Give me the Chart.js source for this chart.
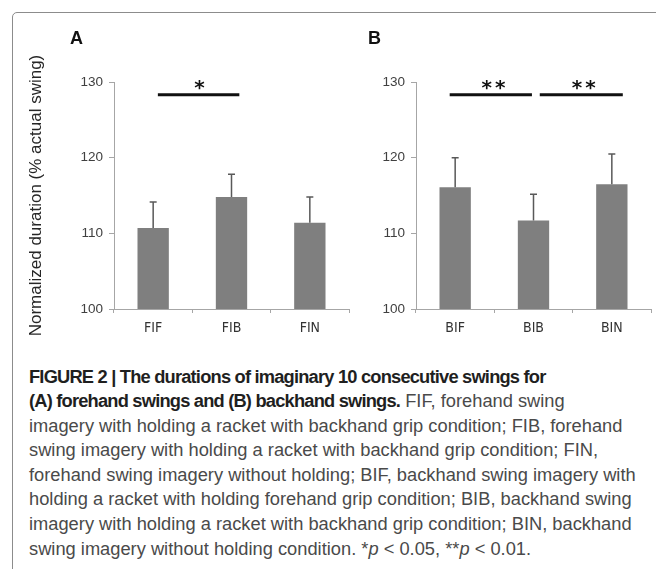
<!DOCTYPE html>
<html>
<head>
<meta charset="utf-8">
<script src="https://cdn.jsdelivr.net/npm/chart.js@4.4.1/dist/chart.umd.min.js"></script>
<style>
  html, body { margin: 0; padding: 0; background: #fff; }
  body { width: 656px; height: 569px; position: relative; overflow: hidden;
         font-family: "Liberation Sans", Arial, sans-serif; }
  #frame { position: absolute; left: 12px; top: 12px; width: 700px; height: 700px;
           border: 1.5px solid #8c8c8c; border-radius: 5px; }
  #chartA { position: absolute; left: 0; top: 0; }
  #chartB { position: absolute; left: 360px; top: 0; }
  #caption { position: absolute; left: 29px; top: 364.5px; font-size: 18.3px; line-height: 24.6px;
             color: #4a4a4a; white-space: nowrap; }
  #caption b { color: #1f1f1f; letter-spacing: -0.8px; }
</style>
</head>
<body>
<div id="frame"></div>
<canvas id="chartA" width="360" height="345"></canvas>
<canvas id="chartB" width="296" height="345"></canvas>
<div id="caption">
  <div><b>FIGURE 2 | The durations of imaginary 10 consecutive swings for</b></div>
  <div><b>(A) forehand swings and (B) backhand swings.</b> FIF, forehand swing</div>
  <div>imagery with holding a racket with backhand grip condition; FIB, forehand</div>
  <div>swing imagery with holding a racket with backhand grip condition; FIN,</div>
  <div>forehand swing imagery without holding; BIF, backhand swing imagery with</div>
  <div>holding a racket with holding forehand grip condition; BIB, backhand swing</div>
  <div>imagery with holding a racket with backhand grip condition; BIN, backhand</div>
  <div>swing imagery without holding condition. *<i>p</i> &lt; 0.05, **<i>p</i> &lt; 0.01.</div>
</div>
<script>
// --- data ---
const categoriesA = ['FIF', 'FIB', 'FIN'];
const meansA = [110.7, 114.8, 111.4];
const errorsA = [3.45, 3.0, 3.4];

const categoriesB = ['BIF', 'BIB', 'BIN'];
const meansB = [116.1, 111.7, 116.5];
const errorsB = [3.9, 3.45, 4.0];

const yTickValues = [100, 110, 120, 130];
const yTitle = 'Normalized duration (% actual swing)';

// significance bars: ends in category units, label
const sigA = [{ from: 0.06, to: 1.1, at: 0.59, label: '*' }];
const sigB = [{ from: -0.07, to: 0.98, at: 0.49, label: '**' },
              { from: 1.08, to: 2.14, at: 1.64, label: '**' }];
const sigLineValue = 128.3;
const sigStarValue = 129.8;

const SANS = '"Liberation Sans", Arial, sans-serif';
const NARROW = '"Liberation Sans Narrow", "DejaVu Sans Condensed", "Arial Narrow", sans-serif';
const AXIS_GREY = '#a6a6a6';

// error bars, significance lines and the panel letter
function extrasPlugin(errors, sigs, letter) {
    return {
        id: 'extras',
        afterDatasetsDraw(chart) {
            const ctx = chart.ctx;
            const xs = chart.scales.x, ys = chart.scales.y;
            const meta = chart.getDatasetMeta(0);
            const values = chart.data.datasets[0].data;
            ctx.save();
            ctx.strokeStyle = '#595959';
            ctx.lineWidth = 1.5;
            meta.data.forEach((bar, i) => {
                const yTop = ys.getPixelForValue(values[i] + errors[i]);
                ctx.beginPath();
                ctx.moveTo(bar.x, bar.y);
                ctx.lineTo(bar.x, yTop);
                ctx.moveTo(bar.x - 3.5, yTop);
                ctx.lineTo(bar.x + 3.5, yTop);
                ctx.stroke();
            });

            ctx.strokeStyle = '#111';
            ctx.fillStyle = '#111';
            ctx.lineWidth = 3;
            const yLine = ys.getPixelForValue(sigLineValue);
            const yStar = ys.getPixelForValue(sigStarValue);
            const starSize = 20;
            sigs.forEach(s => {
                ctx.beginPath();
                ctx.moveTo(xs.getPixelForValue(s.from), yLine);
                ctx.lineTo(xs.getPixelForValue(s.to), yLine);
                ctx.stroke();
                ctx.font = 'bold ' + starSize + 'px "DejaVu Sans", sans-serif';
                ctx.textAlign = 'center';
                ctx.textBaseline = 'alphabetic';
                ctx.letterSpacing = '3px';
                ctx.fillText(s.label, xs.getPixelForValue(s.at) + 1.5, yStar + starSize * 0.545);
            });
            ctx.letterSpacing = '0px';

            ctx.font = 'bold 18px ' + SANS;
            ctx.textAlign = 'left';
            ctx.textBaseline = 'alphabetic';
            ctx.fillText(letter.text, letter.x, letter.y);
            ctx.restore();
        }
    };
}

function makePanel(id, categories, means, errors, sigs, opts) {
    return new Chart(document.getElementById(id), {
        type: 'bar',
        data: {
            labels: categories,
            datasets: [{
                data: means,
                backgroundColor: '#7f7f7f',
                borderWidth: 0,
                barPercentage: 0.4,
                categoryPercentage: 1.0
            }]
        },
        options: {
            responsive: false,
            animation: false,
            layout: { padding: { left: 0, top: 82, right: opts.padRight, bottom: 0 } },
            plugins: { legend: { display: false }, tooltip: { enabled: false } },
            scales: {
                x: {
                    offset: true,
                    grid: { offset: true, drawOnChartArea: false, tickLength: 4, color: AXIS_GREY },
                    border: { color: AXIS_GREY },
                    ticks: { font: { family: NARROW, size: 14 }, color: '#333', padding: 7 },
                    afterFit: s => { s.height = 36; }
                },
                y: {
                    min: yTickValues[0],
                    max: yTickValues[yTickValues.length - 1],
                    afterBuildTicks: s => { s.ticks = yTickValues.map(v => ({ value: v })); },
                    grid: { drawOnChartArea: false, tickLength: 5, color: AXIS_GREY },
                    border: { color: AXIS_GREY },
                    ticks: { font: { family: SANS, size: 13.5 }, color: '#404040', padding: 6 },
                    title: {
                        display: !!opts.title,
                        text: opts.title || '',
                        font: { family: SANS, size: 17 },
                        color: '#262626',
                        padding: { top: 26, bottom: 0 }
                    },
                    afterFit: s => { s.width = opts.axisWidth; }
                }
            }
        },
        plugins: [extrasPlugin(errors, sigs, opts.letter)]
    });
}

makePanel('chartA', categoriesA, meansA, errorsA, sigA,
    { title: yTitle, axisWidth: 114, padRight: 11, letter: { text: 'A', x: 70, y: 44 } });
makePanel('chartB', categoriesB, meansB, errorsB, sigB,
    { title: null, axisWidth: 56, padRight: 5, letter: { text: 'B', x: 8, y: 44 } });
</script>
</body>
</html>
